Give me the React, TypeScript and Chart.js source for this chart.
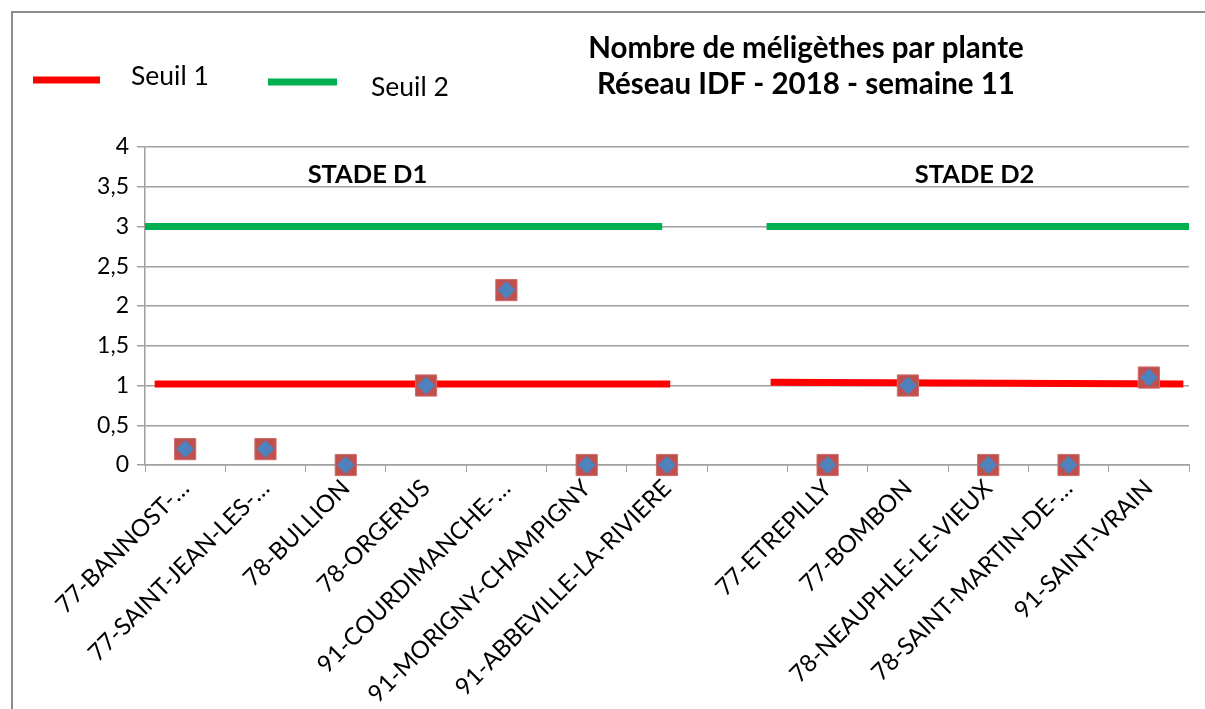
import React, { useEffect, useRef } from "react";
import { Chart, registerables } from "chart.js";

Chart.register(...registerables);

const categories = [
  "77-BANNOST-…",
  "77-SAINT-JEAN-LES-…",
  "78-BULLION",
  "78-ORGERUS",
  "91-COURDIMANCHE-…",
  "91-MORIGNY-CHAMPIGNY",
  "91-ABBEVILLE-LA-RIVIERE",
  "",
  "77-ETREPILLY",
  "77-BOMBON",
  "78-NEAUPHLE-LE-VIEUX",
  "78-SAINT-MARTIN-DE-…",
  "91-SAINT-VRAIN",
];
const meligethes = [0.2, 0.2, 0, 1, 2.2, 0, 0, null, 0, 1, 0, 0, 1.1];

// threshold segments (x in category-index units), null breaks the line
const seuil1X = [-0.38, 6.04, 6.5, 7.29, 12.43];
const seuil1Y = [1.02, 1.02, null, 1.04, 1.02];
const seuil2X = [-0.5, 5.94, 6.5, 7.24, 12.5];
const seuil2Y = [3, 3, null, 3, 3];

const yTicks = [0, 0.5, 1, 1.5, 2, 2.5, 3, 3.5, 4];
const titleLines = ["Nombre de méligèthes par plante", "Réseau IDF - 2018 - semaine 11"];
const stageLabels = ["STADE D1", "STADE D2"];
const stageX = [2.27, 9.83];
const stageY = [3.65, 3.65];

const FONT = "Lato, 'Open Sans', sans-serif";

const decorPlugin = {
  id: "decor",
  afterDraw(chart: any) {
    const ctx = chart.ctx;
    ctx.save();
    // outer border
    ctx.strokeStyle = "#8c8c8c";
    ctx.lineWidth = 2;
    ctx.strokeRect(12, 12, 1300, 800);
    // legend
    ctx.lineCap = "butt";
    ctx.lineWidth = 7;
    ctx.strokeStyle = "#FF0000";
    ctx.beginPath();
    ctx.moveTo(33, 80);
    ctx.lineTo(100, 80);
    ctx.stroke();
    ctx.strokeStyle = "#00B050";
    ctx.beginPath();
    ctx.moveTo(268, 82);
    ctx.lineTo(337, 82);
    ctx.stroke();
    ctx.fillStyle = "#000";
    ctx.font = `26.5px ${FONT}`;
    ctx.textAlign = "left";
    ctx.textBaseline = "middle";
    ctx.fillText("Seuil 1", 131, 76);
    ctx.fillText("Seuil 2", 371, 87);
    // title
    ctx.font = `bold 29.5px ${FONT}`;
    ctx.textAlign = "center";
    ctx.fillText(titleLines[0], 806, 48);
    ctx.fillText(titleLines[1], 806, 84);
    // stage labels
    const xs = chart.scales.x2;
    const ys = chart.scales.y;
    ctx.font = `bold 25.5px ${FONT}`;
    stageLabels.forEach((t, i) => {
      ctx.fillText(t, xs.getPixelForValue(stageX[i]), ys.getPixelForValue(stageY[i]));
    });
    ctx.restore();
  },
};

export default function App() {
  const ref = useRef<HTMLCanvasElement>(null);
  useEffect(() => {
    if (!ref.current) return;
    const chart = new Chart(ref.current, {
      type: "line",
      data: {
        labels: categories,
        datasets: [
          {
            label: "Seuil 1",
            data: seuil1X.map((x, i) => ({ x, y: seuil1Y[i] })) as any,
            xAxisID: "x2",
            borderColor: "#FF0000",
            borderWidth: 7,
            pointRadius: 0,
            spanGaps: false,
            borderCapStyle: "butt",
            order: 2,
          },
          {
            label: "Seuil 2",
            data: seuil2X.map((x, i) => ({ x, y: seuil2Y[i] })) as any,
            xAxisID: "x2",
            borderColor: "#00B050",
            borderWidth: 7,
            pointRadius: 0,
            spanGaps: false,
            borderCapStyle: "butt",
            order: 2,
          },
          {
            label: "carré",
            data: meligethes,
            xAxisID: "x",
            showLine: false,
            pointStyle: "rect",
            pointRadius: 15,
            pointBackgroundColor: "#C0504D",
            pointBorderColor: "#CD6E6B",
            pointBorderWidth: 1,
            clip: false as any,
            order: 1,
          },
          {
            label: "Méligèthes",
            data: meligethes,
            xAxisID: "x",
            showLine: false,
            pointStyle: "rectRot",
            pointRadius: 9,
            pointBackgroundColor: "#4F81BD",
            pointBorderWidth: 0,
            clip: false as any,
            order: 0,
          },
        ],
      },
      options: {
        animation: false,
        responsive: false,
        layout: { padding: { top: 147, right: 12, left: 0, bottom: 0 } },
        plugins: {
          legend: { display: false },
          tooltip: { enabled: false },
          title: { display: false },
        },
        scales: {
          x: {
            type: "category",
            offset: true,
            grid: {
              display: true,
              offset: true,
              drawOnChartArea: false,
              drawTicks: true,
              tickLength: 7,
              color: "#a0a0a0",
            },
            border: { display: true, color: "#a0a0a0", width: 1.5 },
            ticks: {
              autoSkip: false,
              maxRotation: 45,
              minRotation: 45,
              color: "#000",
              font: { family: FONT, size: 24 },
              padding: 2,
            },
            afterFit(scale: any) {
              scale.height = 244;
            },
          },
          x2: {
            type: "linear",
            display: false,
            min: -0.5,
            max: 12.5,
          },
          y: {
            min: 0,
            max: 4,
            afterBuildTicks(scale: any) {
              scale.ticks = yTicks.map((v) => ({ value: v }));
            },
            grid: {
              color: "#a0a0a0",
              lineWidth: 1.5,
              drawTicks: true,
              tickLength: 8,
            },
            border: { display: true, color: "#a0a0a0", width: 1.5 },
            ticks: {
              color: "#000",
              font: { family: FONT, size: 23 },
              padding: 8,
              callback: (v: any) => String(v).replace(".", ","),
            },
            afterFit(scale: any) {
              scale.width = 145;
            },
          },
        },
      },
      plugins: [decorPlugin],
    });
    return () => chart.destroy();
  }, []);
  return (
    <div style={{ position: "fixed", left: 0, top: 0, width: 1205, height: 709, background: "#fff" }}>
      <canvas ref={ref} width={1205} height={709} />
    </div>
  );
}
